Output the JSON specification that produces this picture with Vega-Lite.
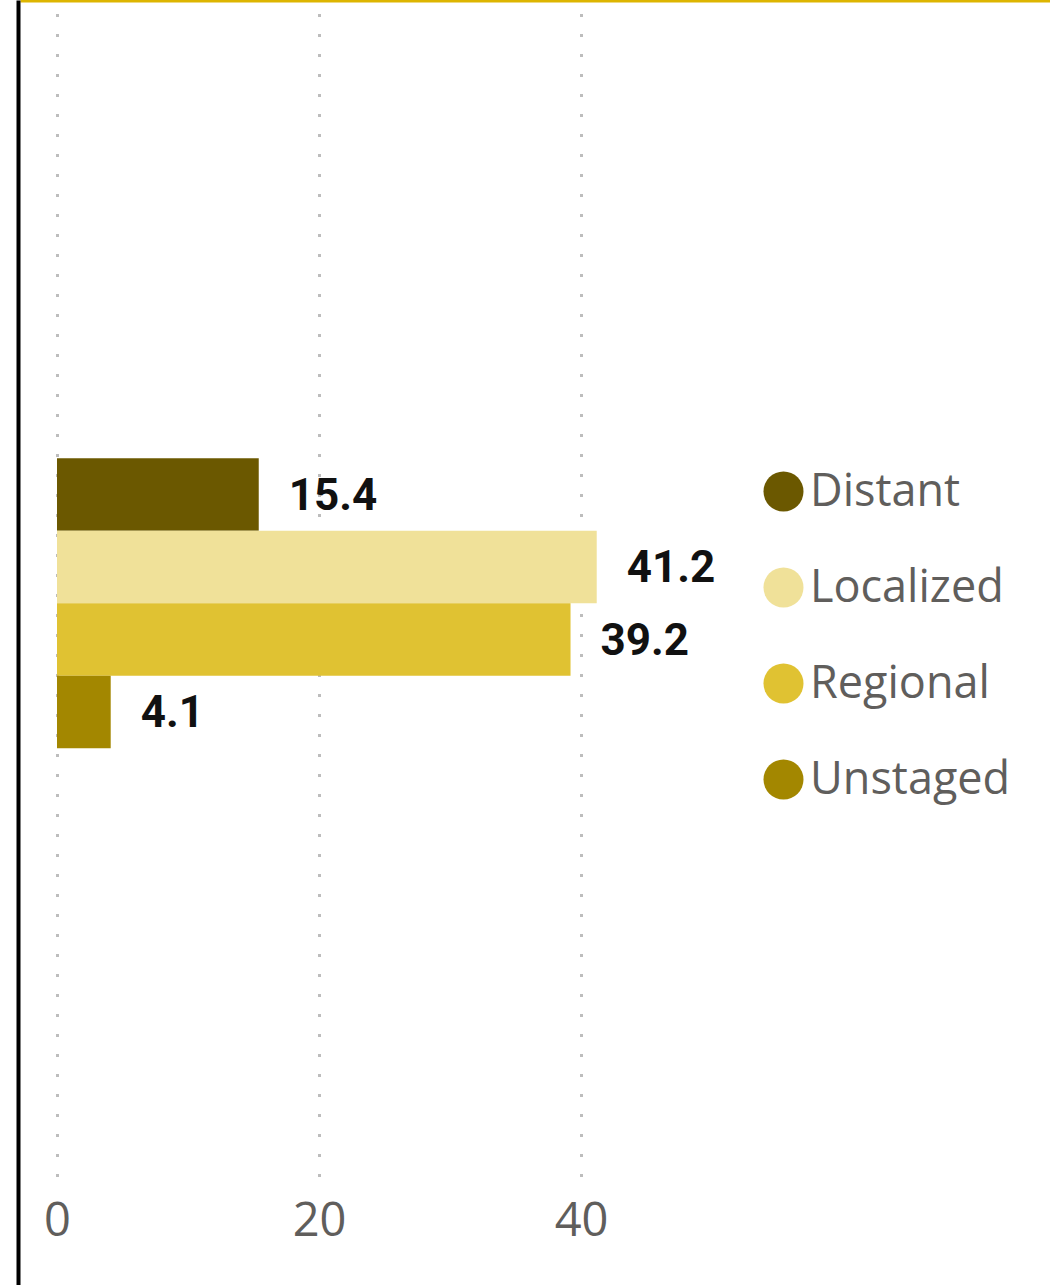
{
  "$schema": "https://vega.github.io/schema/vega-lite/v6.json",
  "width": 1030,
  "height": 1285,
  "autosize": {"type": "none"},
  "padding": {"left": 20, "top": 0, "right": 0, "bottom": 0},
  "background": "white",
  "config": {"view": {"stroke": null}},
  "data": {
    "values": [
      {"group": "All stages", "stage": "Distant", "value": 15.4},
      {"group": "All stages", "stage": "Localized", "value": 41.2},
      {"group": "All stages", "stage": "Regional", "value": 39.2},
      {"group": "All stages", "stage": "Unstaged", "value": 4.1}
    ]
  },
  "encoding": {
    "y": {
      "field": "group",
      "type": "nominal",
      "scale": {"paddingInner": 0.417, "paddingOuter": 1, "align": 0.4606},
      "axis": {
        "orient": "left",
        "title": null,
        "labels": false,
        "ticks": false,
        "grid": false,
        "domain": true,
        "domainColor": "#000000",
        "domainWidth": 4,
        "offset": 2
      }
    },
    "yOffset": {
      "field": "stage",
      "type": "nominal",
      "sort": ["Distant", "Localized", "Regional", "Unstaged"],
      "scale": {"paddingInner": 0, "paddingOuter": 0}
    }
  },
  "layer": [
    {
      "mark": {"type": "bar"},
      "encoding": {
        "x": {
          "field": "value",
          "type": "quantitative",
          "scale": {"domain": [-2.824, 75.8], "zero": false, "nice": false},
          "axis": {
            "orient": "bottom",
            "title": null,
            "values": [0, 20, 40],
            "domain": false,
            "ticks": false,
            "tickSize": 0,
            "grid": true,
            "gridColor": "#BDBDBD",
            "gridWidth": 3,
            "gridCap": "butt",
            "gridDash": [0,108.5,3,17,3,17,3,17,3,17,3,17,3,17,3,17,3,17,3,17,3,17,3,17,3,17,3,17,3,17,3,17,3,17,3,17,3,17,3,17,3,17,3,17,3,17,3,17,3,17,3,17,3,17,3,17,3,17,3,17,3,17,3,17,3,17,3,17,3,17,3,17,3,17,3,17,3,17,3,17,3,17,3,17,3,17,3,17,3,17,3,17,3,17,3,17,3,17,3,17,3,17,3,17,3,17,3,17,3,17,3,17,3,17,3,17,3,17,3,17,3,2000],
            "labelFont": "Open Sans",
            "labelFontSize": 47,
            "labelColor": "#605E5C",
            "labelPadding": -64,
            "labelBaseline": "middle",
            "labelFlush": false,
            "labelOverlap": false
          }
        },
        "x2": {"datum": 0},
        "color": {
          "field": "stage",
          "type": "nominal",
          "sort": ["Distant", "Localized", "Regional", "Unstaged"],
          "scale": {
            "domain": ["Distant", "Localized", "Regional", "Unstaged"],
            "range": ["#6B5800", "#F0E199", "#E0C232", "#A38700"]
          },
          "legend": {
            "orient": "none",
            "legendX": 741,
            "legendY": 469,
            "title": null,
            "padding": 0,
            "symbolType": "circle",
            "symbolSize": 1600,
            "symbolStrokeWidth": 0,
            "symbolOpacity": 1,
            "labelFont": "Open Sans",
            "labelFontSize": 45,
            "labelColor": "#605E5C",
            "labelOffset": 4,
            "rowPadding": 50,
            "labelLimit": 400
          }
        }
      }
    },
    {
      "mark": {
        "type": "text",
        "align": "left",
        "baseline": "middle",
        "dx": 30,
        "dy": 2,
        "font": "Roboto",
        "fontWeight": "bold",
        "fontSize": 44,
        "color": "#111111"
      },
      "encoding": {
        "x": {
          "field": "value",
          "type": "quantitative",
          "axis": {
            "orient": "top",
            "title": null,
            "labels": false,
            "ticks": false,
            "grid": false,
            "domain": true,
            "domainColor": "#DDB500",
            "domainWidth": 4
          }
        },
        "text": {"field": "value", "type": "quantitative", "format": ".1f"}
      }
    }
  ],
  "resolve": {"axis": {"x": "independent"}}
}
